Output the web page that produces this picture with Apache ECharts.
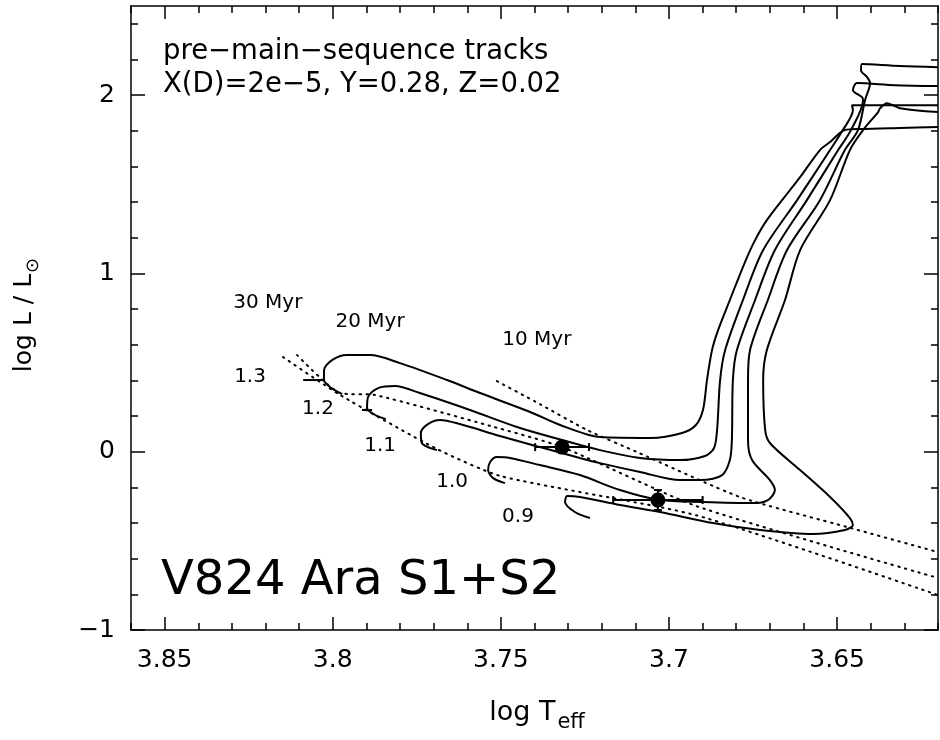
<!DOCTYPE html>
<html><head><meta charset="utf-8">
<script src="https://cdn.jsdelivr.net/npm/echarts@6/dist/echarts.min.js"></script>
<style>html,body{margin:0;padding:0;background:#fff}#c{width:940px;height:740px}</style>
</head><body><div id="c"></div>
<script>
// ---- axis ticks ----
const xMajorTicks = [3.65, 3.7, 3.75, 3.8, 3.85];
const xMinorTicks = [3.62,3.63,3.64,3.66,3.67,3.68,3.69,3.71,3.72,3.73,3.74,3.76,3.77,3.78,3.79,3.81,3.82,3.83,3.84,3.86];
const yMajorTicks = [-1, 0, 1, 2];
const yMinorTicks = [-0.8,-0.6,-0.4,-0.2,0.2,0.4,0.6,0.8,1.2,1.4,1.6,1.8,2.2,2.4];

// ---- evolutionary tracks [log Teff, log L] ----
const track13 = [[3.620,1.821],[3.6313,1.816],[3.6432,1.810],[3.6477,1.804],[3.6521,1.737],[3.6551,1.692],[3.6610,1.540],[3.6640,1.468],[3.6709,1.299],[3.6744,1.187],[3.6774,1.064],[3.6819,0.851],[3.6854,0.682],[3.6872,0.570],[3.6887,0.402],[3.6899,0.234],[3.6920,0.150],[3.6961,0.105],[3.7056,0.077],[3.7205,0.082],[3.7324,0.150],[3.7413,0.223],[3.7562,0.329],[3.7660,0.402],[3.7800,0.497],[3.7889,0.542],[3.7958,0.542],[3.8002,0.514],[3.8026,0.458],[3.8026,0.402],[3.8008,0.363],[3.7972,0.323]];
const track12 = [[3.620,1.944],[3.6343,1.944],[3.6456,1.944],[3.6453,1.916],[3.6483,1.804],[3.6521,1.692],[3.6619,1.411],[3.6720,1.131],[3.6780,0.851],[3.6833,0.570],[3.6848,0.402],[3.6857,0.122],[3.6866,0.021],[3.6893,-0.024],[3.6967,-0.047],[3.7086,-0.035],[3.7205,0.009],[3.7318,0.066],[3.7443,0.133],[3.7592,0.234],[3.7741,0.329],[3.7815,0.368],[3.7865,0.357],[3.7895,0.307],[3.7898,0.245],[3.7874,0.206],[3.7842,0.183]];
const track11 = [[3.620,2.051],[3.6328,2.056],[3.6441,2.068],[3.6453,2.028],[3.6426,1.989],[3.6423,1.972],[3.6459,1.804],[3.6497,1.692],[3.6590,1.411],[3.6685,1.131],[3.6744,0.851],[3.6798,0.570],[3.6810,0.402],[3.6813,0.066],[3.6819,-0.047],[3.6842,-0.131],[3.6908,-0.159],[3.6967,-0.159],[3.7086,-0.114],[3.7205,-0.064],[3.7265,-0.035],[3.7384,0.026],[3.7503,0.088],[3.7622,0.155],[3.7681,0.178],[3.7717,0.155],[3.7738,0.105],[3.7735,0.049],[3.7711,0.021],[3.7690,0.009]];
const track10 = [[3.620,2.157],[3.6313,2.163],[3.6426,2.174],[3.6429,2.140],[3.6411,2.101],[3.6402,2.068],[3.6417,1.972],[3.6438,1.804],[3.6477,1.692],[3.6551,1.411],[3.6649,1.131],[3.6706,0.851],[3.6759,0.570],[3.6765,0.402],[3.6765,0.066],[3.6753,-0.047],[3.6700,-0.159],[3.6685,-0.215],[3.6706,-0.271],[3.6750,-0.288],[3.6899,-0.282],[3.7027,-0.271],[3.7146,-0.215],[3.7265,-0.131],[3.7384,-0.075],[3.7473,-0.035],[3.7512,-0.030],[3.7532,-0.058],[3.7538,-0.103],[3.7523,-0.148],[3.7488,-0.176]];
const track09 = [[3.620,1.905],[3.6313,1.927],[3.6352,1.955],[3.6372,1.927],[3.6378,1.905],[3.6423,1.804],[3.6462,1.692],[3.6521,1.411],[3.6610,1.131],[3.6655,0.851],[3.6709,0.570],[3.6720,0.402],[3.6714,0.122],[3.6700,0.049],[3.6610,-0.103],[3.6521,-0.254],[3.6462,-0.372],[3.6453,-0.411],[3.6477,-0.439],[3.6572,-0.462],[3.6729,-0.439],[3.6869,-0.400],[3.7027,-0.338],[3.7146,-0.299],[3.7265,-0.254],[3.7303,-0.249],[3.7309,-0.282],[3.7280,-0.338],[3.7235,-0.372]];
const stub13 = [[3.8088,0.402],[3.8029,0.402]];
const stub12 = [[3.7913,0.234],[3.7883,0.234]];

// ---- isochrones (dotted) ----
const iso10 = [[3.7512,0.396],[3.7384,0.267],[3.7244,0.122],[3.7095,-0.002],[3.6789,-0.254],[3.6471,-0.422],[3.620,-0.563]];
const iso20 = [[3.8106,0.542],[3.7978,0.329],[3.7874,0.318],[3.7530,0.144],[3.7318,0.026],[3.6920,-0.304],[3.620,-0.708]];
const iso30 = [[3.8148,0.531],[3.7978,0.318],[3.7690,0.015],[3.7500,-0.137],[3.6920,-0.356],[3.620,-0.804]];

// ---- V824 Ara components [log Teff, log L, err Teff, err L] ----
const stars = [[3.7318,0.026,0.0080,0.025],[3.7033,-0.271,0.0133,0.056]];

// ---- text labels ----
const isoLabels = ['30 Myr','20 Myr','10 Myr'];
const isoLabelPos = [[3.8193,0.834],[3.7889,0.727],[3.7393,0.626]];
const massLabels = ['1.3','1.2','1.1','1.0','0.9'];
const massLabelPos = [[3.8246,0.419],[3.8044,0.239],[3.7859,0.032],[3.7645,-0.170],[3.7449,-0.366]];

const FONT = 'DejaVu Sans';
const chart = echarts.init(document.getElementById('c'), null, {renderer:'canvas'});

const xBase = {type:'value', min:3.62, max:3.86, inverse:true, splitLine:{show:false}, gridIndex:0};
const yBase = {type:'value', min:-1, max:2.5, splitLine:{show:false}, gridIndex:0};
const lineBlack = {color:'#000', width:1.5};

function trackSeries(d){
  return {type:'line', data:d, xAxisIndex:0, yAxisIndex:0, showSymbol:false, symbol:'none', smooth:0.3,
    lineStyle:{color:'#000', width:2}, silent:true, z:3};
}
function isoSeries(d){
  return {type:'line', data:d, xAxisIndex:0, yAxisIndex:0, showSymbol:false, symbol:'none', smooth:0.2,
    lineStyle:{color:'#000', width:2, type:[1.5,5.5], cap:'round'}, silent:true, z:2};
}
function labelSeries(names, pos, size){
  return {type:'scatter', xAxisIndex:0, yAxisIndex:0, symbolSize:0, silent:true, z:5,
    itemStyle:{opacity:1},
    data: names.map((n,i)=>({name:n, value:pos[i]})),
    label:{show:true, position:'inside', formatter:p=>p.name, color:'#000', opacity:1, fontFamily:FONT, fontSize:size}};
}

const option = {
  animation:false,
  backgroundColor:'#fff',
  grid:{left:131, top:6, right:2, bottom:110, show:false, containLabel:false, outerBoundsMode:'none'},
  xAxis:[
    Object.assign({}, xBase, {position:'bottom',
      axisLine:{show:true, onZero:false, lineStyle:lineBlack},
      axisTick:{show:true, inside:true, length:13, customValues:xMajorTicks, lineStyle:lineBlack},
      axisLabel:{show:true, customValues:xMajorTicks, margin:18, color:'#000', fontFamily:FONT, fontSize:25}}),
    Object.assign({}, xBase, {position:'bottom',
      axisLine:{show:false, onZero:false},
      axisTick:{show:true, inside:true, length:7, customValues:xMinorTicks, lineStyle:lineBlack},
      axisLabel:{show:false}}),
    Object.assign({}, xBase, {position:'top',
      axisLine:{show:true, onZero:false, lineStyle:lineBlack},
      axisTick:{show:true, inside:true, length:13, customValues:xMajorTicks, lineStyle:lineBlack},
      axisLabel:{show:false}}),
    Object.assign({}, xBase, {position:'top',
      axisLine:{show:false, onZero:false},
      axisTick:{show:true, inside:true, length:7, customValues:xMinorTicks, lineStyle:lineBlack},
      axisLabel:{show:false}})
  ],
  yAxis:[
    Object.assign({}, yBase, {position:'left',
      axisLine:{show:true, onZero:false, lineStyle:lineBlack},
      axisTick:{show:true, inside:true, length:14, customValues:yMajorTicks, lineStyle:lineBlack},
      axisLabel:{show:true, customValues:yMajorTicks, margin:16, color:'#000', fontFamily:FONT, fontSize:25,
        formatter:v=> v<0 ? '\u2212'+Math.abs(v) : String(v)}}),
    Object.assign({}, yBase, {position:'left',
      axisLine:{show:false, onZero:false},
      axisTick:{show:true, inside:true, length:7, customValues:yMinorTicks, lineStyle:lineBlack},
      axisLabel:{show:false}}),
    Object.assign({}, yBase, {position:'right',
      axisLine:{show:true, onZero:false, lineStyle:lineBlack},
      axisTick:{show:true, inside:true, length:14, customValues:yMajorTicks, lineStyle:lineBlack},
      axisLabel:{show:false}}),
    Object.assign({}, yBase, {position:'right',
      axisLine:{show:false, onZero:false},
      axisTick:{show:true, inside:true, length:7, customValues:yMinorTicks, lineStyle:lineBlack},
      axisLabel:{show:false}})
  ],
  series:[
    trackSeries(track13), trackSeries(track12), trackSeries(track11), trackSeries(track10), trackSeries(track09),
    trackSeries(stub13), trackSeries(stub12),
    isoSeries(iso10), isoSeries(iso20), isoSeries(iso30),
    {type:'custom', xAxisIndex:0, yAxisIndex:0, silent:true, z:6, data:stars,
      renderItem:function(params, api){
        const x=api.value(0), y=api.value(1), ex=api.value(2), ey=api.value(3);
        const l=api.coord([x+ex,y]), r=api.coord([x-ex,y]);
        const t=api.coord([x,y+ey]), b=api.coord([x,y-ey]);
        const st={stroke:'#000', lineWidth:2};
        const cap=4;
        return {type:'group', children:[
          {type:'line', shape:{x1:l[0],y1:l[1],x2:r[0],y2:r[1]}, style:st},
          {type:'line', shape:{x1:l[0],y1:l[1]-cap,x2:l[0],y2:l[1]+cap}, style:st},
          {type:'line', shape:{x1:r[0],y1:r[1]-cap,x2:r[0],y2:r[1]+cap}, style:st},
          {type:'line', shape:{x1:t[0],y1:t[1],x2:b[0],y2:b[1]}, style:st},
          {type:'line', shape:{x1:t[0]-cap,y1:t[1],x2:t[0]+cap,y2:t[1]}, style:st},
          {type:'line', shape:{x1:b[0]-cap,y1:b[1],x2:b[0]+cap,y2:b[1]}, style:st}
        ]};
      }},
    {type:'scatter', xAxisIndex:0, yAxisIndex:0, silent:true, z:7, symbol:'circle', symbolSize:15,
      itemStyle:{color:'#000', opacity:1}, data:stars.map(s=>[s[0],s[1]])},
    labelSeries(isoLabels, isoLabelPos, 20),
    labelSeries(massLabels, massLabelPos, 20)
  ],
  graphic:[
    {type:'text', left:163, top:38, style:{text:'pre\u2212main\u2212sequence tracks', fill:'#000', font:'27.5px "DejaVu Sans"'}},
    {type:'text', left:163, top:71, style:{text:'X(D)=2e\u22125, Y=0.28, Z=0.02', fill:'#000', font:'27.5px "DejaVu Sans"'}},
    {type:'text', left:161, top:558, style:{text:'V824 Ara S1+S2', fill:'#000', font:'48px "DejaVu Sans"'}},
    {type:'text', x:537, y:713, style:{text:'{a|log T}{b|eff}', align:'center', verticalAlign:'middle', rich:{
      a:{fontFamily:FONT, fontSize:27, fill:'#000', color:'#000'},
      b:{fontFamily:FONT, fontSize:21, fill:'#000', color:'#000', padding:[20,0,0,2]}}}},
    {type:'text', x:24, y:315, rotation:Math.PI/2, style:{text:'{a|log L / L}{b|\u2299}', align:'center', verticalAlign:'middle', rich:{
      a:{fontFamily:FONT, fontSize:25, fill:'#000', color:'#000'},
      b:{fontFamily:FONT, fontSize:18, fill:'#000', color:'#000', padding:[18,0,0,1]}}}}
  ]
};
chart.setOption(option);
</script></body></html>
